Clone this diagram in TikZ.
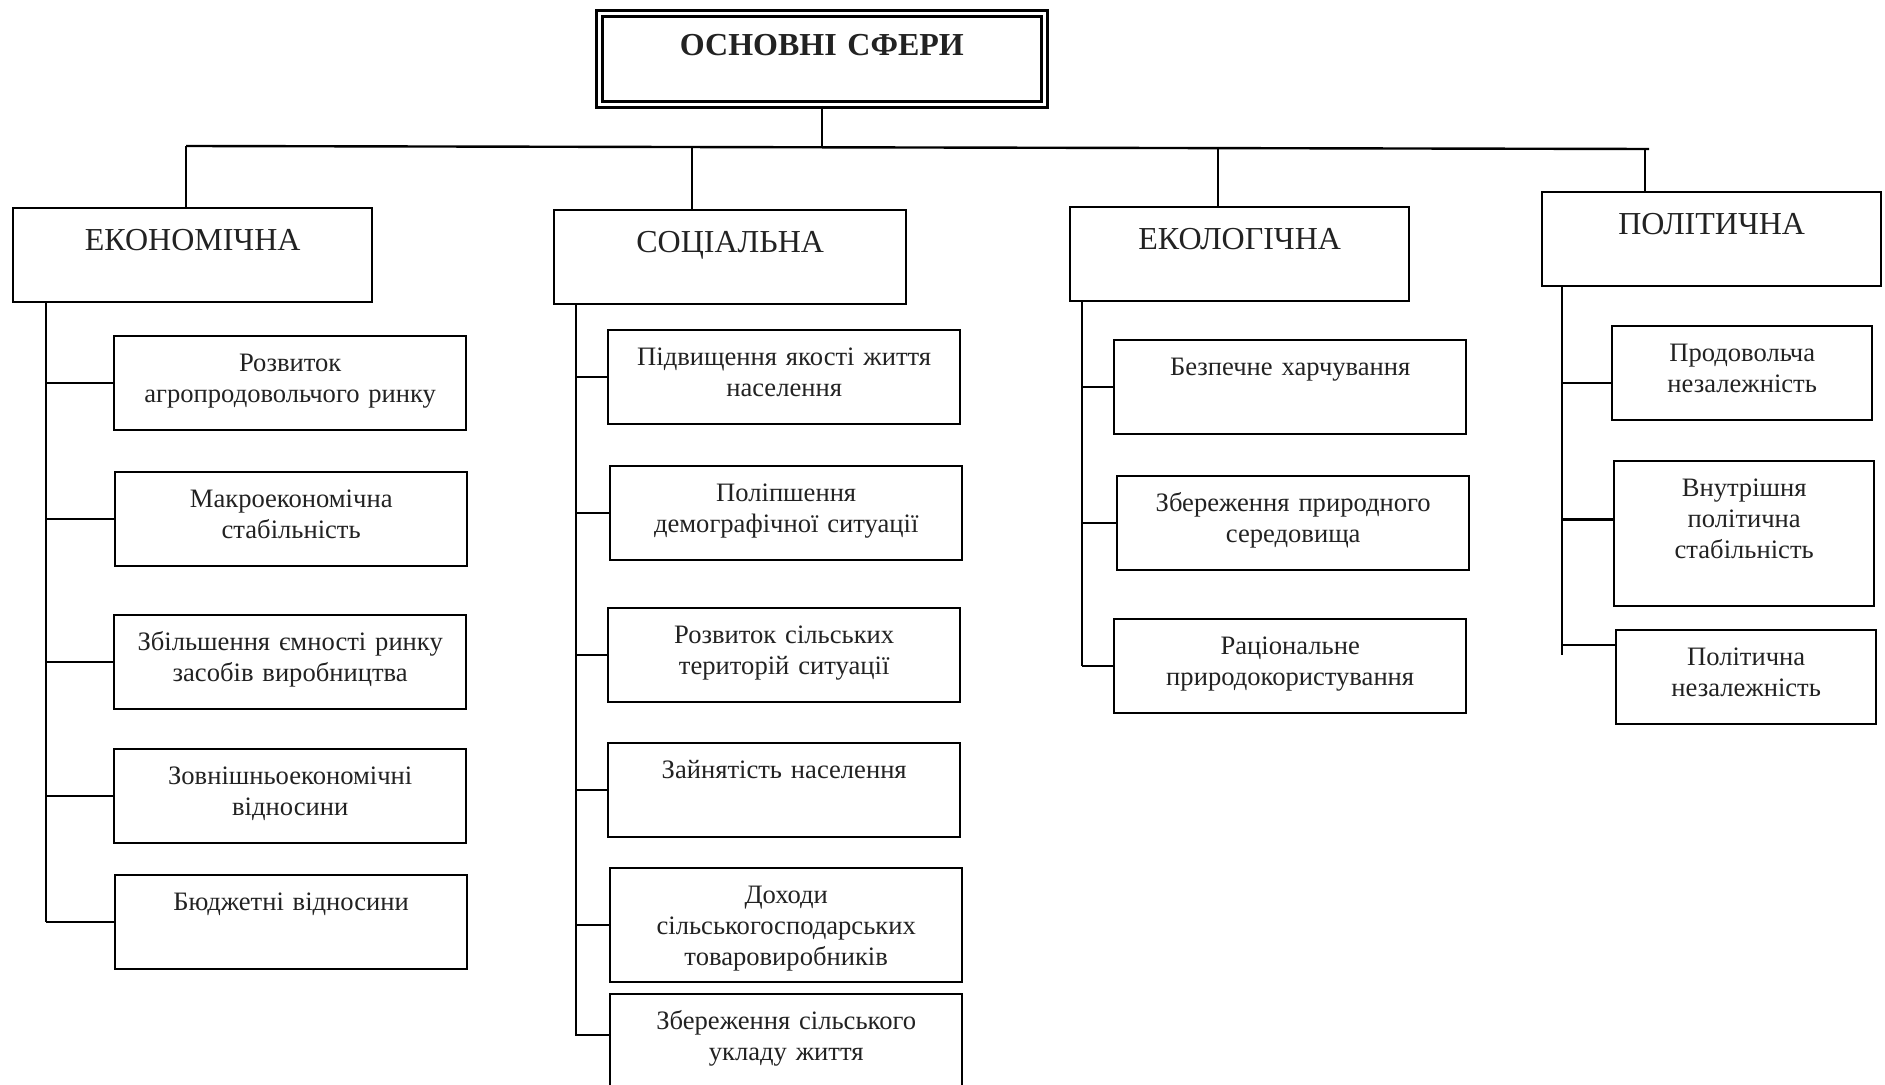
\documentclass[tikz,border=0pt]{standalone}
\usepackage{fontspec}
\setmainfont{Liberation Serif}
\definecolor{inkgray}{HTML}{222222}

\tikzset{
  topbox/.style={draw, double, double distance=1.5pt, line width=1.4pt, anchor=north west, inner sep=0pt, align=center, text width=222.5pt, text height=21pt, text depth=24.5pt, text=inkgray, font=\fontsize{16}{19}\selectfont\bfseries},
  sphere/.style={draw, line width=1.2pt, anchor=north west, inner sep=0pt, align=center, text width=#1, text height=21pt, text depth=26pt, text=inkgray, font=\fontsize{16}{19}\selectfont},
  item/.style={draw, line width=1.2pt, anchor=north west, inner sep=0pt, align=center, text width=#1, text height=17.5pt, text depth=29.5pt, text=inkgray, font=\fontsize{13.3}{15.5}\selectfont},
  item/.default=176pt,
  link/.style={line width=1.2pt}
}

\begin{document}
\begin{tikzpicture}[x=0.5pt, y=-0.5pt]
\useasboundingbox (0,0) rectangle (1885,1085);
\clip (0,0) rectangle (1885,1085);

% Main box
\node[topbox] (main) at (598,12) {ОСНОВНІ СФЕРИ};

% Spheres
\node[sphere=179.5pt] (econ) at (12,207) {ЕКОНОМІЧНА};
\node[sphere=176pt] (soc) at (553,209) {СОЦІАЛЬНА};
\node[sphere=169.5pt] (eco) at (1069,206) {ЕКОЛОГІЧНА};
\node[sphere=169.5pt] (pol) at (1541,191) {ПОЛІТИЧНА};

% Bus line
\coordinate (d1) at (186,146);
\coordinate (d2) at (692,147);
\coordinate (d3) at (1218,148);
\coordinate (d4) at (1645,149);
\coordinate (bend) at (1649,149);
\draw[link] (main.south) -- (main.south |- d2);
\draw[link] (d1) -- (bend);
\draw[link] (d1) -- (d1 |- econ.north);
\draw[link] (d2) -- (d2 |- soc.north);
\draw[link] (d3) -- (d3 |- eco.north);
\draw[link] (d4) -- (d4 |- pol.north);

% Economic
\node[item] (e1) at (113,335) {Розвиток\\агропродовольчого ринку};
\node[item] (e2) at (114,471) {Макроекономічна\\стабільність};
\node[item] (e3) at (113,614) {Збільшення ємності ринку\\засобів виробництва};
\node[item] (e4) at (113,748) {Зовнішньоекономічні\\відносини};
\node[item] (e5) at (114,874) {Бюджетні відносини};
\coordinate (es) at (46,0);
\draw[link] (econ.south -| es) -- (e5.west -| es);
\foreach \n in {e1,e2,e3,e4,e5}
  \draw[link] (\n.west) -- (\n.west -| es);

% Social
\node[item] (s1) at (607,329) {Підвищення якості життя\\населення};
\node[item] (s2) at (609,465) {Поліпшення\\демографічної ситуації};
\node[item] (s3) at (607,607) {Розвиток сільських\\територій ситуації};
\node[item] (s4) at (607,742) {Зайнятість населення};
\node[item, text depth=39.5pt] (s5) at (609,867) {Доходи\\сільськогосподарських\\товаровиробників};
\node[item] (s6) at (609,993) {Збереження сільського\\укладу життя};
\coordinate (ss) at (576,0);
\draw[link] (soc.south -| ss) -- ([yshift=3pt]s6.west -| ss) -- ([yshift=3pt]s6.west);
\foreach \n in {s1,s2,s3,s4,s5}
  \draw[link] (\n.west) -- (\n.west -| ss);

% Ecological
\node[item] (l1) at (1113,339) {Безпечне харчування};
\node[item] (l2) at (1116,475) {Збереження природного\\середовища};
\node[item] (l3) at (1113,618) {Раціональне\\природокористування};
\coordinate (ls) at (1082,0);
\draw[link] (eco.south -| ls) -- (l3.west -| ls);
\foreach \n in {l1,l2,l3}
  \draw[link] (\n.west) -- (\n.west -| ls);

% Political
\node[item=130pt] (p1) at (1611,325) {Продовольча\\незалежність};
\node[item=130pt, text depth=55pt] (p2) at (1613,460) {Внутрішня\\політична\\стабільність};
\node[item=130pt] (p3) at (1615,629) {Політична\\незалежність};
\coordinate (pend) at (1562,655);
\draw[link] (pol.south -| pend) -- (pend);
\draw[link] ([yshift=-5pt]p1.west) -- ([yshift=-5pt]p1.west -| pend);
\draw[link] ([yshift=7pt]p2.west) -- ([yshift=7pt]p2.west -| pend);
\draw[link] ([yshift=16pt]p3.west) -- ([yshift=16pt]p3.west -| pend);
\end{tikzpicture}
\end{document}
